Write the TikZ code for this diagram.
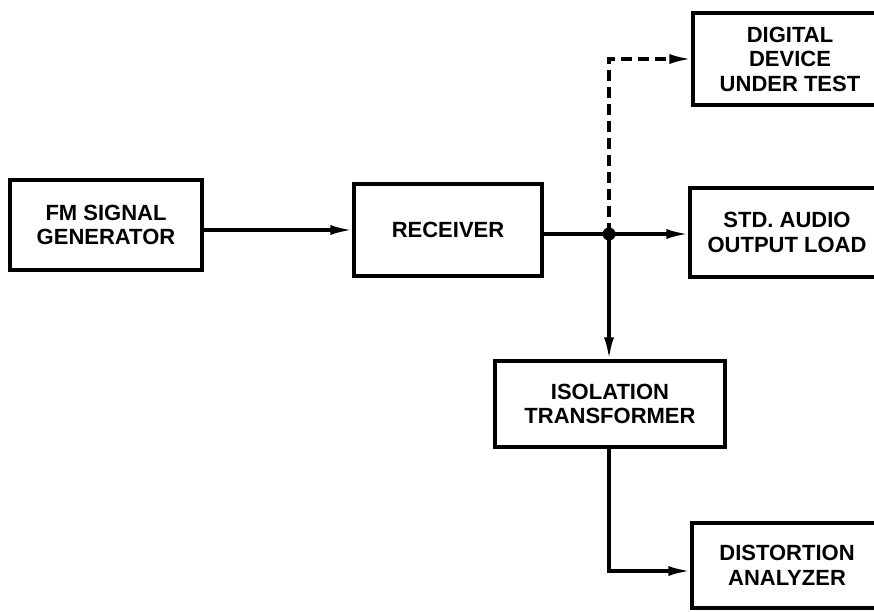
\documentclass[tikz,border=0pt]{standalone}
\usepackage{fontspec}
\setmainfont{Liberation Sans}
\usetikzlibrary{arrows.meta}
\tikzset{
  blk/.style={draw, line width=3.2pt, inner sep=0pt, align=center,
    font=\fontsize{22}{24.5}\selectfont\bfseries},
  arr/.style={line width=3.2pt, -{Latex[length=22pt,width=10pt]}},
  wire/.style={line width=3.2pt},
  dsh/.style={dash pattern=on 11pt off 6pt}
}
\begin{document}
\begin{tikzpicture}[x=1pt,y=-1pt]
\useasboundingbox (0,0) rectangle (874,612);
\fill[white] (0,0) rectangle (874,612);
\clip (0,0) rectangle (874,612);
\node[blk, minimum width=192pt, minimum height=90pt] (fm) at (106,225) {FM SIGNAL\\GENERATOR};
\node[blk, minimum width=188pt, minimum height=92pt] (rx) at (448,230) {RECEIVER};
\node[blk, minimum width=194pt, minimum height=92pt] (dig) at (790,59) {DIGITAL\\DEVICE\\UNDER TEST};
\node[blk, minimum width=194pt, minimum height=89pt] (std) at (787,232.5) {STD. AUDIO\\OUTPUT LOAD};
\node[blk, minimum width=230pt, minimum height=86pt] (iso) at (610,404) {ISOLATION\\TRANSFORMER};
\node[blk, minimum width=190pt, minimum height=85pt] (dist) at (787,565.5) {DISTORTION\\ANALYZER};
\coordinate (j) at (609,234);
\coordinate (a) at ([yshift=-5pt]fm.east);
\draw[arr] (a) -- (rx.west |- a);
\draw[wire] (rx.east |- j) -- (j);
\draw[arr] (j) -- (std.west |- j);
\draw[arr, dsh] (j) |- (dig.west);
\draw[arr] (j) -- (j |- iso.north);
\draw[arr] (j |- iso.south) |- ([yshift=-5.5pt]dist.west);
\fill (j) circle (6.5pt);
\end{tikzpicture}
\end{document}
